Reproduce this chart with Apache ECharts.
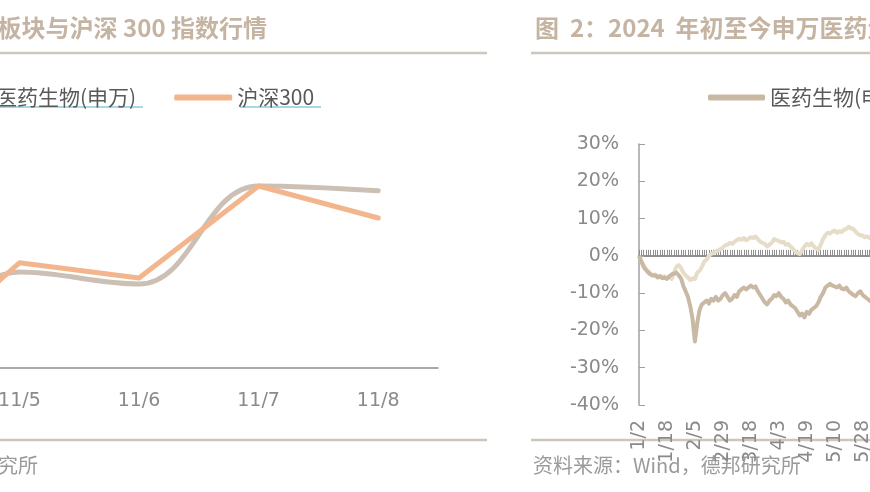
<!DOCTYPE html>
<html>
<head>
<meta charset="utf-8">
<script src="https://cdn.jsdelivr.net/npm/echarts@6/dist/echarts.min.js"></script>
<style>
html,body{margin:0;padding:0;background:#fff;overflow:hidden;width:870px;height:492px;position:relative;}
#main{width:1300px;height:492px;position:absolute;left:-160px;top:0;}
</style>
</head>
<body>
<div id="main"></div>
<script>
// ---- Left chart (figure 1): recent week ----
const leftCats = ['11/4', '11/5', '11/6', '11/7', '11/8'];
const leftPharma = [0, 2.4, 2.1, 4.55, 4.43];
const leftHS300 = [0, 2.63, 2.25, 4.55, 3.75];

// ---- Right chart (figure 2): 2024 YTD (%) ----
const rightCats = [
 '1/2','1/3','1/4','1/5','1/8','1/9','1/10','1/11','1/12','1/15',
 '1/16','1/17','1/18','1/19','1/22','1/23','1/24','1/25','1/26','1/29',
 '1/30','1/31','2/1','2/2','2/5','2/6','2/7','2/8','2/19','2/20',
 '2/21','2/22','2/23','2/26','2/27','2/28','2/29','3/1','3/4','3/5',
 '3/6','3/7','3/8','3/11','3/12','3/13','3/14','3/15','3/18','3/19',
 '3/20','3/21','3/22','3/25','3/26','3/27','3/28','3/29','4/1','4/2',
 '4/3','4/4','4/5','4/8','4/9','4/10','4/11','4/12','4/15','4/16',
 '4/17','4/18','4/19','4/22','4/23','4/24','4/25','4/26','4/29','4/30',
 '5/6','5/7','5/8','5/9','5/10','5/13','5/14','5/15','5/16','5/17',
 '5/20','5/21','5/22','5/23','5/24','5/27','5/28','5/29','5/30','5/31',
 '6/3','6/4','6/5','6/6','6/7'
];
const rightPharma = [
 0,-1.5,-3,-3.8,-4.5,-5,-5.3,-5.2,-5.8,-5.5,
 -6,-5.8,-6.2,-5.5,-5,-4.8,-4.5,-5.2,-6,-8,
 -9.5,-11,-13.5,-17,-23,-18,-14.5,-13,-12.5,-12,
 -12.8,-11.5,-12,-11,-12,-11.5,-10.5,-10,-11,-12,
 -11.5,-10.5,-11,-9.5,-9,-8.5,-9,-8.5,-8,-8.5,
 -8.2,-9.5,-10.5,-11.5,-12.5,-13,-12,-11.5,-10.5,-10.8,
 -10,-11,-11.5,-12.5,-12,-13,-13.5,-14,-15,-16,
 -15.5,-16.5,-15,-15.5,-14.5,-14,-13.5,-12.5,-11,-10,
 -8.5,-8,-7.5,-8,-8.2,-8.5,-8,-8.8,-9,-8.5,
 -9.5,-10,-10.5,-10.8,-10,-9.5,-10.5,-11,-11.5,-12,
 -12.5,-12,-13,-12.5,-13
];
const rightHS300 = [
 0,-1.5,-2.5,-3.5,-4.2,-4.8,-5.2,-5,-5.5,-5.3,
 -5.8,-5.5,-6,-5.5,-6.2,-4.5,-3,-2.5,-3.2,-4.5,
 -5.2,-5.8,-6.5,-6,-6.2,-4.5,-4,-3,-1.5,-1,
 0,0.5,0.8,1.2,1.5,1.8,2.2,2.8,3,3.5,
 3.2,3.8,4.2,4.6,4.3,4.8,4.2,4.6,5,4.8,
 5.2,4.5,3.8,3.5,3.2,2.5,3,3.5,4.5,4.2,
 4,3.6,3.8,3,3.2,2.5,2,1.2,0.8,0.5,
 1.5,2.5,3.2,2.8,3.4,2.5,2,1.6,3,4.5,
 5.5,6.2,6,6.5,6.8,6.2,6.6,6.4,7,7.2,
 7.8,7.4,7.2,6.5,5.8,5.6,5.4,5,5.2,4.8,
 4.5,4.6,4.2,4.4,4
];
const rightTicks = [-40, -30, -20, -10, 0, 10, 20, 30];

const C_GRAY = '#cbc0b3';
const C_ORANGE = '#f3b68c';
const C_DARK = '#c9b9a4';
const C_LIGHT = '#e6ddc9';
const C_TITLE = '#c5b4a2';
const C_RULE = '#cdc6bd';
const C_AXIS = '#8f8f8f';
const C_LABEL = '#8a8a8a';
const CJK = '"Noto Sans CJK SC", "Noto Sans", sans-serif';
const NUM = '"DejaVu Sans", sans-serif';
const OX = 160; // canvas is shifted left by this many pixels

const chart = echarts.init(document.getElementById('main'), null, {renderer: 'canvas'});

const option = {
  animation: false,
  backgroundColor: '#ffffff',
  grid: [
    {left: 0, right: 702, top: 128, bottom: 114},
    {left: 639 + OX, right: 1300 - (881.3 + OX), top: 144, bottom: 87}
  ],
  legend: [
    {
      left: -72 + OX, top: 82, icon: 'roundRect', itemWidth: 58, itemHeight: 6, itemGap: 38,
      data: ['医药生物(申万)', '沪深300'],
      textStyle: {fontSize: 21, color: '#595959', fontFamily: CJK}
    },
    {
      left: 703 + OX, top: 82, icon: 'roundRect', itemWidth: 57, itemHeight: 6, itemGap: 33,
      data: [
        {name: '医药生物(申万)', itemStyle: {color: C_DARK}},
        {name: '沪深300', itemStyle: {color: C_LIGHT}}
      ],
      textStyle: {fontSize: 21, color: '#595959', fontFamily: CJK}
    }
  ],
  xAxis: [
    {
      gridIndex: 0, type: 'category', data: leftCats, boundaryGap: true,
      axisLine: {lineStyle: {color: '#8f8f8f', width: 1.5}},
      axisTick: {inside: true, length: 5, lineStyle: {color: '#8f8f8f', width: 1.2}},
      axisLabel: {interval: 0, color: C_LABEL, fontFamily: NUM, fontSize: 19, margin: 14}
    },
    {
      gridIndex: 1, type: 'category', data: rightCats, boundaryGap: false,
      axisLine: {onZero: true, lineStyle: {color: C_AXIS, width: 2}},
      axisTick: {interval: 0, inside: true, length: 6, lineStyle: {color: C_AXIS, width: 1}},
      axisLabel: {interval: 11, rotate: 90, color: C_LABEL, fontFamily: NUM, fontSize: 19, margin: 15}
    }
  ],
  yAxis: [
    {gridIndex: 0, type: 'value', min: -0.25, max: 6, show: false},
    {
      gridIndex: 1, type: 'value', min: rightTicks[0], max: rightTicks[rightTicks.length - 1], interval: 10,
      axisLine: {show: true, lineStyle: {color: '#a0a0a0', width: 1.5}},
      axisTick: {show: true, inside: true, length: 6, lineStyle: {color: '#a0a0a0'}},
      splitLine: {show: false},
      axisLabel: {formatter: '{value}%', color: C_LABEL, fontFamily: NUM, fontSize: 19, margin: 20}
    }
  ],
  series: [
    {
      type: 'line', name: '医药生物(申万)', xAxisIndex: 0, yAxisIndex: 0, data: leftPharma,
      smooth: 0.4, symbol: 'none', color: C_GRAY,
      lineStyle: {width: 5, color: C_GRAY, cap: 'round', join: 'round'}
    },
    {
      type: 'line', name: '沪深300', xAxisIndex: 0, yAxisIndex: 0, data: leftHS300,
      smooth: false, symbol: 'none', color: C_ORANGE,
      lineStyle: {width: 5, color: C_ORANGE, cap: 'round', join: 'round'}
    },
    {
      type: 'line', name: '沪深300', xAxisIndex: 1, yAxisIndex: 1, data: rightHS300,
      symbol: 'none', color: C_LIGHT,
      lineStyle: {width: 4, color: C_LIGHT, join: 'round'}
    },
    {
      type: 'line', name: '医药生物(申万)', xAxisIndex: 1, yAxisIndex: 1, data: rightPharma,
      symbol: 'none', color: C_DARK,
      lineStyle: {width: 4, color: C_DARK, join: 'round'}
    }
  ],
  graphic: [
    {type: 'text', x: 267 + OX, y: 28, style: {text: '图 1：本周医药板块与沪深 300 指数行情', font: 'bold 24px ' + CJK, fill: C_TITLE, align: 'right', verticalAlign: 'middle'}},
    {type: 'text', x: 535 + OX, y: 28, style: {text: '图  2：2024  年初至今申万医药生物板块与沪深 300 走势', font: 'bold 24px ' + CJK, fill: C_TITLE, align: 'left', verticalAlign: 'middle'}},
    {type: 'line', shape: {x1: 0, y1: 53, x2: 487 + OX, y2: 53}, style: {stroke: C_RULE, lineWidth: 2.5}},
    {type: 'line', shape: {x1: 531 + OX, y1: 53, x2: 1300, y2: 53}, style: {stroke: C_RULE, lineWidth: 2.5}},
    {type: 'line', shape: {x1: 0, y1: 440, x2: 487 + OX, y2: 440}, style: {stroke: C_RULE, lineWidth: 2.5}},
    {type: 'line', shape: {x1: 531 + OX, y1: 440, x2: 1300, y2: 440}, style: {stroke: C_RULE, lineWidth: 2.5}},
    {type: 'line', shape: {x1: -3 + OX, y1: 107, x2: 143 + OX, y2: 107}, style: {stroke: '#a6d9e2', lineWidth: 2}},
    {type: 'line', shape: {x1: 240 + OX, y1: 107, x2: 321 + OX, y2: 107}, style: {stroke: '#a6d9e2', lineWidth: 2}},
    {type: 'text', x: 38 + OX, y: 465, style: {text: '资料来源：Wind，德邦研究所', font: '20px ' + CJK, fill: '#9a9a9a', align: 'right', verticalAlign: 'middle'}},
    {type: 'text', x: 533 + OX, y: 465, style: {text: '资料来源：Wind，德邦研究所', font: '20px ' + CJK, fill: '#9a9a9a', align: 'left', verticalAlign: 'middle'}}
  ]
};
chart.setOption(option);
</script>
</body>
</html>
